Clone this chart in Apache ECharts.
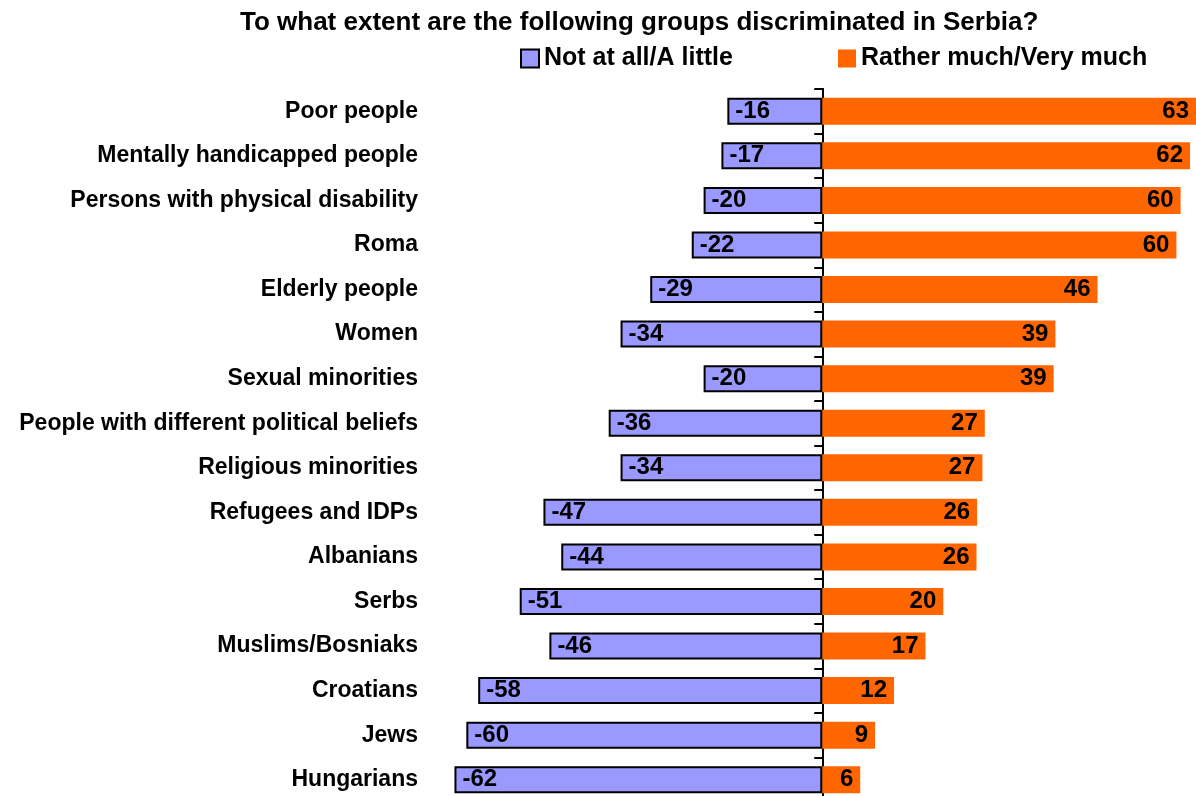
<!DOCTYPE html>
<html>
<head>
<meta charset="utf-8">
<script src="https://cdn.jsdelivr.net/npm/echarts@6/dist/echarts.min.js"></script>
<style>html,body{margin:0;padding:0;background:#fff;}#c{width:1196px;height:796px;}</style>
</head>
<body>
<div id="c"></div>
<script>
const titleText = 'To what extent are the following groups discriminated in Serbia?';
const categories = ['Poor people','Mentally handicapped people','Persons with physical disability','Roma','Elderly people','Women','Sexual minorities','People with different political beliefs','Religious minorities','Refugees and IDPs','Albanians','Serbs','Muslims/Bosniaks','Croatians','Jews','Hungarians'];
const seriesNames = ['Not at all/A little','Rather much/Very much'];
const notAtAll = [-16,-17,-20,-22,-29,-34,-20,-36,-34,-47,-44,-51,-46,-58,-60,-62];
const ratherMuch = [63,62,60.4,59.7,46.4,39.3,39,27.4,27,26.1,26,20.4,17.4,12.1,8.9,6.4];

const FONT = '"Liberation Sans", Arial, Helvetica, sans-serif';
const chart = echarts.init(document.getElementById('c'), null, {renderer:'canvas'});
const legendText = {fontFamily:FONT, fontWeight:'bold', fontSize:25, color:'#000'};
const gridBox = {left:407, right:0, top:89, bottom:-6, containLabel:false, outerBoundsMode:'none'};
const xRange = {type:'value', min:-70, max:63, show:false, splitLine:{show:false}};
chart.setOption({
  backgroundColor:'#fff',
  animation:false,
  title:{text:titleText, left:240, top:10, padding:0, textStyle:{fontFamily:FONT, fontWeight:'bold', fontSize:26, color:'#000', lineHeight:26}},
  legend:[
    {data:[seriesNames[0]], left:520, top:46, padding:0, icon:'rect', itemWidth:18, itemHeight:18, textStyle:legendText},
    {data:[seriesNames[1]], left:838, top:46, padding:0, icon:'rect', itemWidth:18, itemHeight:18, textStyle:legendText}
  ],
  grid:[Object.assign({}, gridBox), Object.assign({}, gridBox)],
  xAxis:[Object.assign({gridIndex:0}, xRange), Object.assign({gridIndex:1}, xRange)],
  yAxis:[
    {gridIndex:0, type:'category', data:categories, inverse:true, position:'left',
     axisLine:{show:false, onZero:false},
     axisTick:{show:false},
     axisLabel:{show:true, interval:0, margin:-11, fontFamily:FONT, fontWeight:'bold', fontSize:23, color:'#000'}},
    {gridIndex:0, type:'category', data:categories, inverse:true, position:'left',
     axisLine:{show:true, onZero:true, lineStyle:{color:'#000', width:2}},
     axisTick:{show:true, interval:0, alignWithLabel:false, length:8, lineStyle:{color:'#000', width:2}},
     axisLabel:{show:false}},
    {gridIndex:1, type:'category', data:categories, inverse:true, position:'left',
     axisLine:{show:true, onZero:true, lineStyle:{color:'#000', width:2}},
     axisTick:{show:true, interval:0, alignWithLabel:true, length:6, lineStyle:{color:'#000', width:2}},
     axisLabel:{show:false}}
  ],
  series:[
    {name:seriesNames[0], type:'bar', xAxisIndex:0, yAxisIndex:0, data:notAtAll, barWidth:27, barGap:'-100%',
     itemStyle:{color:'#9999FF', borderColor:'#000', borderWidth:2},
     label:{show:true, position:'insideLeft', distance:8, formatter:p=>String(Math.round(p.value)), fontFamily:FONT, fontWeight:'bold', fontSize:24, color:'#000'}},
    {name:seriesNames[1], type:'bar', xAxisIndex:0, yAxisIndex:0, data:ratherMuch, barWidth:27, barGap:'-100%',
     itemStyle:{color:'#FF6600'},
     label:{show:true, position:'insideRight', distance:7, formatter:p=>String(Math.round(p.value)), fontFamily:FONT, fontWeight:'bold', fontSize:24, color:'#000'}}
  ]
});
</script>
</body>
</html>
